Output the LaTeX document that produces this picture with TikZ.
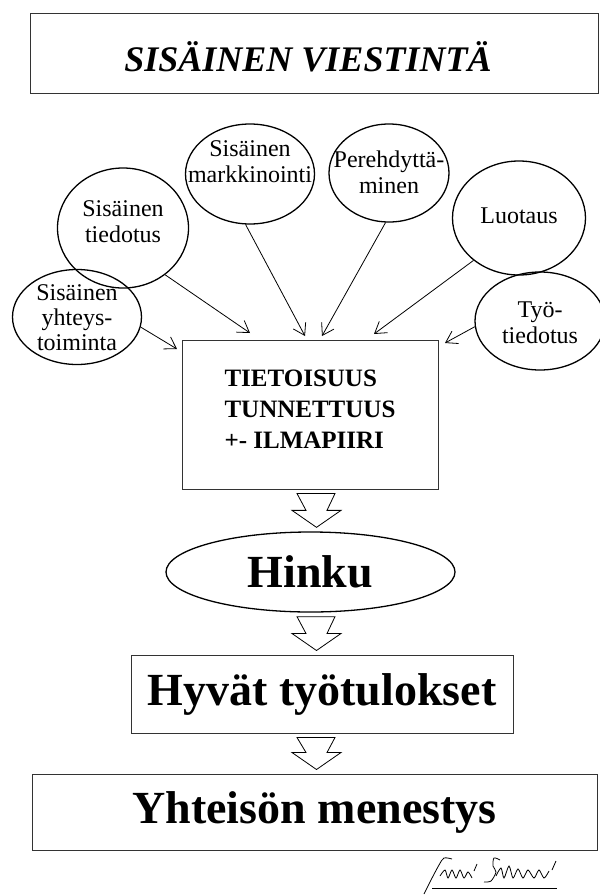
\documentclass[tikz,border=0pt]{standalone}
\usepackage{fontspec}
\setmainfont{Liberation Serif}
\usetikzlibrary{shapes.geometric,arrows.meta,calc}

\newcommand{\fatarrow}[2]{%
  \draw[fat_arrow] let \p1=(#1.south), \p2=(#2.north) in
    (297pt,{\y1-4pt}) -- (306pt,{\y2+21pt}) -- (292pt,{\y2+21pt})
    -- (316.5pt,{\y2+4pt}) -- (341pt,{\y2+21pt}) -- (327pt,{\y2+21pt})
    -- (335pt,{\y1-4pt}) -- cycle;}

\begin{document}
\begin{tikzpicture}[x=1pt,y=-1pt,
		ellipse_style/.style={ellipse,draw=black,line width=1.3pt,inner sep=0pt},
		text_style/.style={align=center,inner sep=0pt,font=\fontsize{24}{26}\selectfont},
		box_style/.style={rectangle,draw=black!80,line width=1pt,inner sep=0pt},
		edge_style/.style={draw=black,line width=0.8pt,-{Straight Barb[length=11pt,width=14pt]}},
		fat_arrow/.style={draw=black,line width=0.8pt,fill=white},
		sign_style/.style={draw=black,line width=0.8pt}]

		\useasboundingbox (0,0) rectangle (600,895);

		\node[box_style,minimum width=568,minimum height=80] (title) at (314,53) {};
		\node[inner sep=0pt,font=\fontsize{36}{36}\selectfont\bfseries\itshape] (title_text) at (308,57)
			{SISÄINEN VIESTINTÄ};

		\node[ellipse_style,minimum width=129,minimum height=95] (yhteys) at (77,317) {};
		\node[text_style,font=\fontsize{24}{25}\selectfont] (yhteys_text) at (77,318) {Sisäinen\\yhteys-\\toiminta};
		\node[ellipse_style,minimum width=131,minimum height=120] (tiedotus) at (123,228) {};
		\node[text_style] (tiedotus_text) at (123,222) {Sisäinen\\tiedotus};
		\node[ellipse_style,minimum width=129,minimum height=100] (markkinointi) at (250,174) {};
		\node[text_style] (markkinointi_text) at (250,162) {Sisäinen\\markkinointi};
		\node[ellipse_style,minimum width=120,minimum height=98] (perehdytys) at (389,173) {};
		\node[text_style] (perehdytys_text) at (389,172) {Perehdyttä-\\minen};
		\node[ellipse_style,minimum width=133,minimum height=114] (luotaus) at (519,218) {};
		\node[text_style] (luotaus_text) at (519,216) {Luotaus};
		\node[ellipse_style,minimum width=130,minimum height=98] (tyotiedotus) at (540,321) {};
		\node[text_style] (tyotiedotus_text) at (540,323) {Työ-\\tiedotus};

		\node[box_style,minimum width=256,minimum height=149] (tietoisuus) at (310,414.5) {};
		\node[align=left,inner sep=0pt,font=\fontsize{25}{31}\selectfont\bfseries] (tietoisuus_text) at (310,409)
			{TIETOISUUS\\TUNNETTUUS\\+- ILMAPIIRI};

		\coordinate (t1) at (177,349);
		\coordinate (t2) at (250,333);
		\coordinate (t3) at (305,336);
		\coordinate (t4) at (322,336);
		\coordinate (t5) at (374,334);
		\coordinate (t6) at (445,343);

		\draw[edge_style] (yhteys.-9) -- (t1);
		\draw[edge_style] (tiedotus.-48) -- (t2);
		\draw[edge_style] (markkinointi.-95) -- (t3);
		\draw[edge_style] (perehdytys.-94) -- (t4);
		\draw[edge_style] (luotaus.-137) -- (t5);
		\draw[edge_style] (tyotiedotus.-175) -- (t6);

		\node[ellipse_style,minimum width=289,minimum height=80] (hinku) at (310.5,572)
			{\fontsize{46}{46}\selectfont\bfseries Hinku};
		\node[box_style,minimum width=382,minimum height=78] (hyvat) at (322,694)
			{\fontsize{46}{46}\selectfont\bfseries Hyvät työtulokset};
		\node[box_style,minimum width=565,minimum height=76] (menestys) at (314.5,812)
			{\fontsize{46}{46}\selectfont\bfseries Yhteisön menestys};

		\fatarrow{tietoisuus}{hinku}
		\fatarrow{hinku}{hyvat}
		\fatarrow{hyvat}{menestys}

		\draw[sign_style] plot[smooth] coordinates {(424,894) (431,880) (439,865) (444,858) (452,859)};
		\draw[sign_style] plot[smooth] coordinates {(440,876) (445,870) (448,878) (452,870) (456,878) (460,870) (464,878) (468,872) (472,878)};
		\draw[sign_style] (477,864) -- (474,871);
		\draw[sign_style] plot[smooth] coordinates {(500,860) (494,858) (493,866) (496,872) (491,881) (484,882)};
		\draw[sign_style] plot[smooth] coordinates {(496,876) (501,868) (504,878) (509,866) (513,878) (518,869) (523,878) (528,870) (534,878) (539,870) (544,878) (549,871)};
		\draw[sign_style] (556,861) -- (552,870);
		\draw[sign_style] (432,888) -- (557,888);

\end{tikzpicture}
\end{document}
